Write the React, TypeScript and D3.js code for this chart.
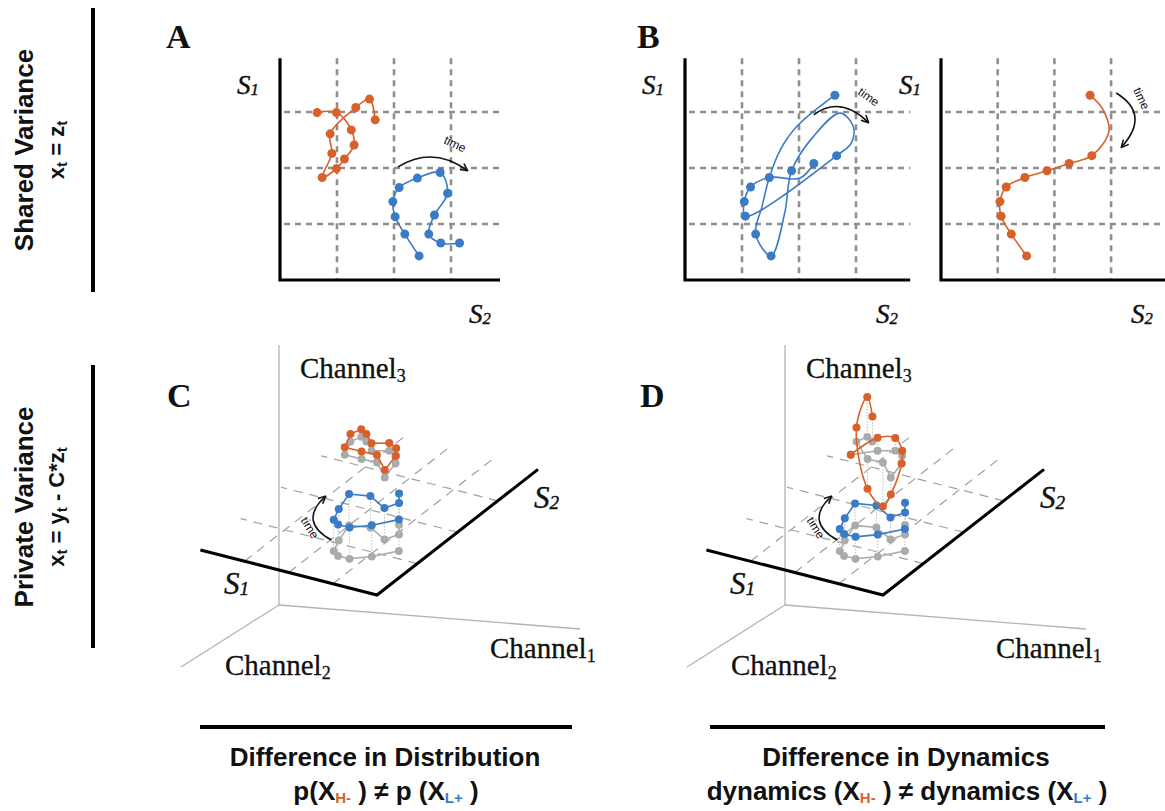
import React from 'react';
import * as d3 from 'd3';

const ORANGE = '#d8612b';
const BLUE = '#3a7bc6';
const GREY_DOT = '#a9a9a9';
const GRID = '#8f8f8f';
const SANS = "'Liberation Sans', Arial, Helvetica, sans-serif";
const SERIF = "'Liberation Serif', 'Times New Roman', serif";

type Pt = [number, number];
type Visit = number | Pt;

// Panel A: two trajectories in the (S2, S1) plane, grid units
const aOrange: Pt[] = [
  [1.67, 2.86], [1.57, 3.23], [1.33, 3.08], [0.88, 2.61], [0.91, 2.26], [0.74, 1.83],
  [0.99, 1.99], [1.13, 2.16], [1.3, 2.41], [1.25, 2.68], [0.99, 2.99], [0.65, 2.99],
];
const aBlue: Pt[] = [
  [2.44, 0.43], [2.19, 0.82], [2.02, 1.13], [1.98, 1.4], [2.09, 1.65], [2.41, 1.82],
  [2.81, 1.92], [2.94, 1.55], [2.71, 1.16], [2.61, 0.82], [2.82, 0.66], [3.15, 0.66],
];

// Panel B: the same ten states, visited with different dynamics
const bStates: Pt[] = [
  [2.63, 3.3], [2.66, 2.22], [2.26, 2.08], [1.87, 1.95], [1.48, 1.83],
  [1.15, 1.66], [1.04, 1.4], [1.06, 1.14], [1.24, 0.82], [1.51, 0.43],
];
// number = index into bStates (drawn as a dot), pair = bend of the line
const bBlueVisits: Visit[] = [
  0, [1.96, 2.74], [1.67, 2.32], 4, [1.35, 1.31], 8, 9, [1.75, 1.2], 3,
  [2.25, 2.56], [2.72, 2.98], [2.95, 2.75], [2.92, 2.45], 1, 7, 6, 5, 4, [2.02, 1.82], 2,
];
const bOrangeVisits: Visit[] = [0, [2.86, 3.04], [2.96, 2.65], 1, 2, 3, 4, 5, 6, 7, 8, 9];

// Panels C / D: positions on the S plane (S1, S2) and height along Channel3
const cdBlueStates: Pt[] = [
  [1.16, 1.82], [0.95, 1.59], [1.09, 1.38], [1.59, 1.58], [2.0, 1.5], [1.85, 1.08],
  [1.7, 0.79], [1.52, 0.7], [1.26, 0.7], [0.93, 0.89], [0.59, 1.19],
];
const cdOrangeStates: Pt[] = [
  [3.62, 3.17], [3.81, 3.52], [3.73, 3.7], [3.54, 3.62], [3.25, 3.43], [2.95, 3.54],
  [2.72, 3.46], [2.56, 3.27], [2.44, 2.87], [2.9, 3.18], [3.24, 3.17],
];
const cBlueHeight = [1, 1, 1, 1, 1, 1, 1, 1, 1, 1, 1];
const cOrangeHeight = [0.24, 0.24, 0.24, 0.24, 0.24, 0.24, 0.24, 0.24, 0.24, 0.24, 0.24];
const dBlueHeight = [0.7, 0.7, 0.7, 0.7, 0.7, 0.7, 0.7, 0.7, 0.7, 0.7, 0.7];
const dOrangeHeight = [0, 0.45, 1.27, 0.8, 0.41, 0.4, 0.16, 0, -0.54, -1.4, -0.95];
const cBlueVisits = [0, 1, 2, 3, 4, 5, 6, 7, 8, 9, 10];
const cOrangeVisits = [0, 1, 2, 3, 4, 5, 6, 7, 8, 9, 10, 0];
const dOrangeVisits = [0, 4, 5, 6, 7, 8, 9, 10, 1, 2, 3];

const gridTicks = [1, 2, 3];

function quad(from: Pt, ctrl: Pt, to: Pt) {
  const p = d3.path();
  p.moveTo(from[0], from[1]);
  p.quadraticCurveTo(ctrl[0], ctrl[1], to[0], to[1]);
  return p.toString();
}

function TimeArrow({ from, ctrl, to, label, angle }: { from: Pt; ctrl: Pt; to: Pt; label: Pt; angle: number }) {
  return (
    <g>
      <path d={quad(from, ctrl, to)} fill="none" stroke="#111" strokeWidth={1.6} markerEnd="url(#head)" />
      <text transform={`translate(${label[0]},${label[1]}) rotate(${angle})`} textAnchor="middle"
        fontFamily={SANS} fontSize={12} fill="#111">time</text>
    </g>
  );
}

function SLabel({ x, y, n, size = 27 }: { x: number; y: number; n: number; size?: number }) {
  return (
    <text x={x} y={y} fontFamily={SERIF} fontStyle="italic" fontSize={size} fill="#111" stroke="#111" strokeWidth={0.4}>
      S<tspan fontSize={size * 0.62} dy={1}>{n}</tspan>
    </text>
  );
}

function Trail({ pts, dots, color, curve, r = 4.5, width = 1.6 }: any) {
  const line = d3.line<Pt>().x(d => d[0]).y(d => d[1]).curve(curve);
  return (
    <g>
      <path d={line(pts) || ''} fill="none" stroke={color} strokeWidth={width} />
      {dots.map((d: Pt, i: number) => <circle key={i} cx={d[0]} cy={d[1]} r={r} fill={color} />)}
    </g>
  );
}

function Panel2D({ x0, stepX, xMax, trails, arrow }: any) {
  const x = d3.scaleLinear().domain([0, 1]).range([x0, x0 + stepX]);
  const y = d3.scaleLinear().domain([0, 1]).range([280, 224]);
  const yMax = 3.96;
  const toPx = (p: Pt): Pt => [x(p[0]), y(p[1])];
  return (
    <g>
      {gridTicks.map(t => (
        <line key={'v' + t} x1={x(t)} x2={x(t)} y1={y(yMax)} y2={y(0)} stroke={GRID} strokeWidth={2.6} strokeDasharray="6 5" />
      ))}
      {gridTicks.map(t => (
        <line key={'h' + t} x1={x(0) + 4} x2={x(xMax)} y1={y(t)} y2={y(t)} stroke={GRID} strokeWidth={2.6} strokeDasharray="6 5" />
      ))}
      <path d={`M${x(0)},${y(yMax)}V${y(0)}H${x(xMax)}`} fill="none" stroke="#000" strokeWidth={3.2} />
      {trails.map((t: any, i: number) => (
        <Trail key={i} pts={t.pts.map(toPx)} dots={t.dots.map(toPx)} color={t.color} curve={d3.curveCatmullRom.alpha(0.5)} />
      ))}
      <TimeArrow from={toPx(arrow.from)} ctrl={toPx(arrow.ctrl)} to={toPx(arrow.to)} label={toPx(arrow.label)} angle={arrow.angle} />
    </g>
  );
}

function resolve(visits: Visit[]) {
  return visits.map(v => (typeof v === 'number' ? bStates[v] : v));
}

function Panel3D({ shift, blueH, orangeH, orangeVisits, orangeCurve }: any) {
  const corner: Pt = [377 + shift, 595];
  const s1x = d3.scaleLinear([0, 4], [0, -176.6]);
  const s1y = d3.scaleLinear([0, 4], [0, -45]);
  const s2x = d3.scaleLinear([0, 4], [0, 161]);
  const s2y = d3.scaleLinear([0, 4], [0, -125.6]);
  const hy = d3.scaleLinear([0, 1], [0, -31.4]);
  const proj = (a: number, b: number, h = 0): Pt => [corner[0] + s1x(a) + s2x(b), corner[1] + s1y(a) + s2y(b) + hy(h)];

  const o: Pt = [279 + shift, 605];
  const ch3: Pt = [279 + shift, 345];
  const ch1: Pt = [580 + shift, 629];
  const ch2: Pt = [181 + shift, 667];

  const bGrey = cBlueVisits.map(i => proj(cdBlueStates[i][0], cdBlueStates[i][1]));
  const bCol = cBlueVisits.map(i => proj(cdBlueStates[i][0], cdBlueStates[i][1], blueH[i]));
  const oGrey = orangeVisits.map((i: number) => proj(cdOrangeStates[i][0], cdOrangeStates[i][1]));
  const oCol = orangeVisits.map((i: number) => proj(cdOrangeStates[i][0], cdOrangeStates[i][1], orangeH[i]));
  const bGreyDots = cdBlueStates.map(s => proj(s[0], s[1]));
  const bDots = cdBlueStates.map((s, i) => proj(s[0], s[1], blueH[i]));
  const oGreyDots = cdOrangeStates.map(s => proj(s[0], s[1]));
  const oDots = cdOrangeStates.map((s, i) => proj(s[0], s[1], orangeH[i]));
  const lin = d3.curveLinear;

  const arrFrom = proj(1.98, 1.04);
  const arrCtrl = proj(2.95, 1.28);
  const arrTo = proj(3.04, 2.04);
  const arrLabel = proj(2.63, 1.13);

  return (
    <g>
      <g stroke="#b3b3b3" strokeWidth={1.3}>
        <line x1={o[0]} y1={o[1]} x2={ch3[0]} y2={ch3[1]} />
        <line x1={o[0]} y1={o[1]} x2={ch1[0]} y2={ch1[1]} />
        <line x1={o[0]} y1={o[1]} x2={ch2[0]} y2={ch2[1]} />
      </g>
      <g stroke="#a0a0a0" strokeWidth={1.2} strokeDasharray="9 7">
        {gridTicks.map(t => {
          const p = proj(t, 0), q = proj(t, 4);
          return <line key={'a' + t} x1={p[0]} y1={p[1]} x2={q[0]} y2={q[1]} />;
        })}
        {gridTicks.map(t => {
          const p = proj(0, t), q = proj(4, t);
          return <line key={'b' + t} x1={p[0]} y1={p[1]} x2={q[0]} y2={q[1]} />;
        })}
      </g>
      <path d={`M${proj(4, 0)}L${proj(0, 0)}L${proj(0, 4)}`} fill="none" stroke="#000" strokeWidth={3} />
      <Trail pts={bGrey} dots={bGreyDots} color={GREY_DOT} curve={lin} r={3.9} width={1.5} />
      <Trail pts={oGrey} dots={oGreyDots} color={GREY_DOT} curve={lin} r={3.9} width={1.5} />
      <g stroke="#bdbdbd" strokeWidth={1} strokeDasharray="1.5 1.5">
        {bDots.map((d, i) => <line key={'cb' + i} x1={d[0]} y1={d[1]} x2={bGreyDots[i][0]} y2={bGreyDots[i][1]} />)}
        {oDots.map((d, i) => <line key={'co' + i} x1={d[0]} y1={d[1]} x2={oGreyDots[i][0]} y2={oGreyDots[i][1]} />)}
      </g>
      <Trail pts={bCol} dots={bDots} color={BLUE} curve={lin} r={4} width={1.6} />
      <Trail pts={oCol} dots={oDots} color={ORANGE} curve={orangeCurve} r={4} width={1.6} />
      <TimeArrow from={arrFrom} ctrl={arrCtrl} to={arrTo} label={arrLabel} angle={58} />

      <g fontFamily={SERIF} fontSize={29} fill="#111" stroke="#111" strokeWidth={0.3}>
        <text x={300 + shift} y={378}>Channel<tspan fontSize={18} dy={4}>3</tspan></text>
        <text x={490 + shift} y={658}>Channel<tspan fontSize={18} dy={4}>1</tspan></text>
        <text x={225 + shift} y={675}>Channel<tspan fontSize={18} dy={4}>2</tspan></text>
      </g>
      <SLabel x={224 + shift} y={594} n={1} size={31} />
      <SLabel x={534 + shift} y={508} n={2} size={31} />
    </g>
  );
}

export default function App() {
  const sub = { fontSize: 15, dy: 3 };
  return (
    <svg width={1165} height={811} style={{ position: 'absolute', left: 0, top: 0, background: '#fff' }}>
      <defs>
        <marker id="head" viewBox="0 0 10 10" refX={8} refY={5} markerWidth={9} markerHeight={9}
          markerUnits="userSpaceOnUse" orient="auto">
          <path d="M1,1 L9,5 L1,9" fill="none" stroke="#111" strokeWidth={1.7} />
        </marker>
      </defs>

      {/* row labels */}
      <g fontFamily={SANS} fontWeight="bold" fill="#111">
        <text transform="translate(33,150) rotate(-90)" textAnchor="middle" fontSize={26}>Shared Variance</text>
        <text transform="translate(64,150) rotate(-90)" textAnchor="middle" fontSize={22}>
          x<tspan {...sub}>t</tspan><tspan dy={-3}> = z</tspan><tspan {...sub}>t</tspan>
        </text>
        <text transform="translate(33,507) rotate(-90)" textAnchor="middle" fontSize={26}>Private Variance</text>
        <text transform="translate(64,507) rotate(-90)" textAnchor="middle" fontSize={22}>
          x<tspan {...sub}>t</tspan><tspan dy={-3}> = y</tspan><tspan {...sub}>t</tspan><tspan dy={-3}> - C*z</tspan><tspan {...sub}>t</tspan>
        </text>
      </g>
      <rect x={91} y={8} width={4} height={284} fill="#000" />
      <rect x={91} y={365} width={4} height={283} fill="#000" />

      {/* panel letters */}
      <g fontFamily={SERIF} fontWeight="bold" fontSize={34} fill="#111">
        <text x={166} y={48}>A</text>
        <text x={637} y={48}>B</text>
        <text x={167} y={407}>C</text>
        <text x={640} y={407}>D</text>
      </g>

      {/* A */}
      <Panel2D x0={280} stepX={57} xMax={3.86}
        trails={[
          { pts: aOrange, dots: aOrange, color: ORANGE },
          { pts: aBlue, dots: aBlue, color: BLUE },
        ]}
        arrow={{ from: [2.07, 2.02], ctrl: [2.68, 2.4], to: [3.28, 1.96], label: [3.04, 2.36], angle: 25 }} />
      <SLabel x={237} y={94} n={1} />
      <SLabel x={469} y={323} n={2} />

      {/* B */}
      <Panel2D x0={685} stepX={57} xMax={3.95}
        trails={[{ pts: resolve(bBlueVisits), dots: bStates, color: BLUE }]}
        arrow={{ from: [2.26, 2.95], ctrl: [2.72, 3.3], to: [3.21, 2.82], label: [3.18, 3.21], angle: 35 }} />
      <Panel2D x0={941} stepX={56.7} xMax={3.96}
        trails={[{ pts: resolve(bOrangeVisits), dots: bStates, color: ORANGE }]}
        arrow={{ from: [3.09, 3.34], ctrl: [3.7, 2.96], to: [3.19, 2.38], label: [3.47, 3.21], angle: 65 }} />
      <SLabel x={642} y={94} n={1} />
      <SLabel x={876} y={323} n={2} />
      <SLabel x={899} y={94} n={1} />
      <SLabel x={1131} y={323} n={2} />

      {/* C and D */}
      <Panel3D shift={0} blueH={cBlueHeight} orangeH={cOrangeHeight} orangeVisits={cOrangeVisits} orangeCurve={d3.curveLinear} />
      <Panel3D shift={506} blueH={dBlueHeight} orangeH={dOrangeHeight} orangeVisits={dOrangeVisits} orangeCurve={d3.curveCatmullRom.alpha(0.5)} />

      {/* bottom captions */}
      <rect x={200} y={725} width={372} height={4} fill="#000" />
      <rect x={710} y={725} width={395} height={4} fill="#000" />
      <g fontFamily={SANS} fontWeight="bold" fill="#111" textAnchor="middle">
        <text x={385} y={766} fontSize={26}>Difference in Distribution</text>
        <text x={386} y={800} fontSize={26}>
          p(X<tspan fill={ORANGE} fontSize={15} dy={3}>H-</tspan><tspan dy={-3}> ) ≠ p (X</tspan><tspan fill={BLUE} fontSize={15} dy={3}>L+</tspan><tspan dy={-3}> )</tspan>
        </text>
        <text x={906} y={766} fontSize={26}>Difference in Dynamics</text>
        <text x={907} y={800} fontSize={26}>
          dynamics (X<tspan fill={ORANGE} fontSize={15} dy={3}>H-</tspan><tspan dy={-3}> ) ≠ dynamics (X</tspan><tspan fill={BLUE} fontSize={15} dy={3}>L+</tspan><tspan dy={-3}> )</tspan>
        </text>
      </g>
    </svg>
  );
}
